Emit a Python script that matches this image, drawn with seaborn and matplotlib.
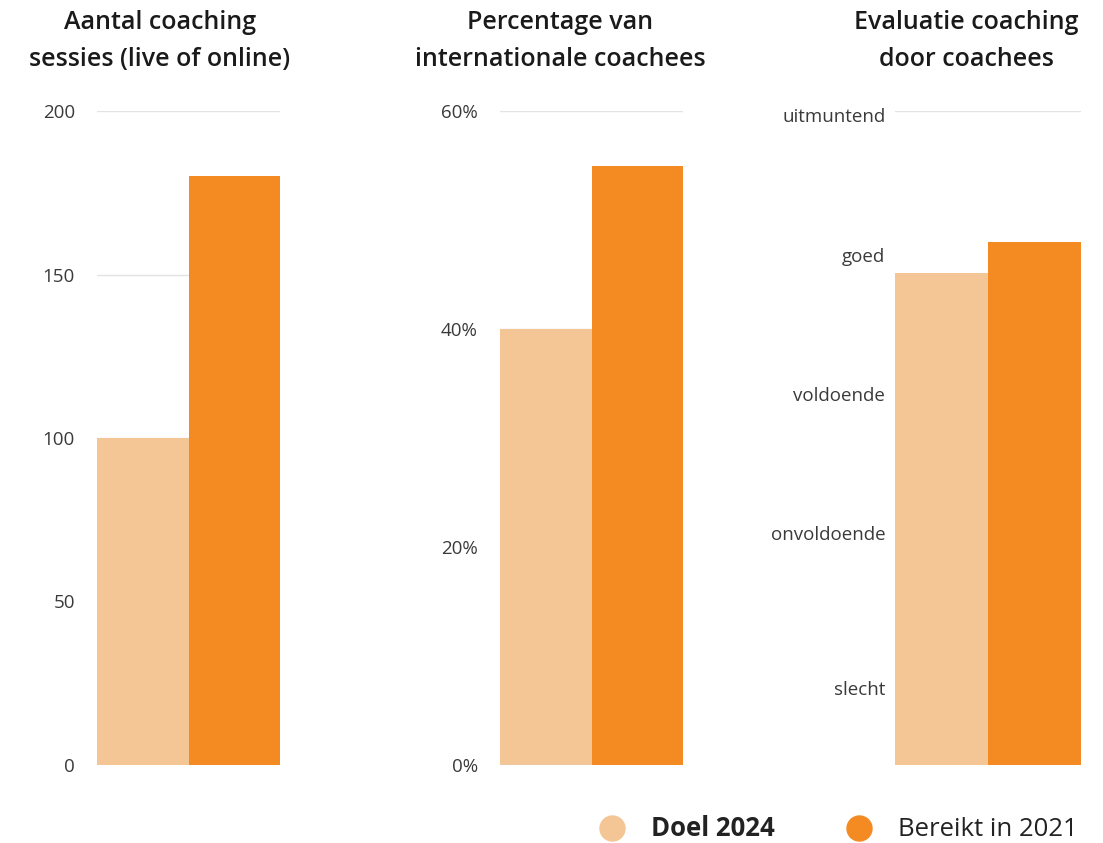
import matplotlib
matplotlib.use("Agg")
import matplotlib.pyplot as plt
import seaborn as sns
import pandas as pd
from matplotlib.lines import Line2D
from matplotlib.ticker import FuncFormatter

# ---- data ----
series = ["Doel 2024", "Bereikt in 2021"]
colors = ["#F4C695", "#F48A22"]

titles = ["Aantal coaching\nsessies (live of online)",
          "Percentage van\ninternationale coachees",
          "Evaluatie coaching\ndoor coachees"]

sessies = [100, 180]
internationaal = [40, 55]          # percent
evaluatie = [3.76, 4.0]            # on 0..5 scale

ticks_sessies = [0, 50, 100, 150, 200]
ticks_intl = [0, 20, 40, 60]
eval_tick_pos = [0.59, 1.77, 2.84, 3.90, 4.97]
eval_tick_labels = ["slecht", "onvoldoende", "voldoende", "goed", "uitmuntend"]

sns.set_theme(style="white")
plt.rcParams["font.family"] = ["Open Sans", "DejaVu Sans"]

fig = plt.figure(figsize=(11.03, 8.43), dpi=100)
W, H = 1103, 843
bottom = (H - 765) / H
height = (765 - 111) / H
lefts = [97, 500, 895]
widths = [183, 183, 186]

values = [sessies, internationaal, evaluatie]
ylims = [(0, 200), (0, 60), (0, 5)]
axes = []
for i in range(3):
    ax = fig.add_axes([lefts[i] / W, bottom, widths[i] / W, height])
    df = pd.DataFrame({"reeks": series, "waarde": values[i]})
    sns.barplot(data=df, x="reeks", y="waarde", hue="reeks", palette=colors,
                width=1.0, dodge=False, legend=False, ax=ax, saturation=1,
                linewidth=0, edgecolor="none")
    ax.set_xlim(-0.5, 1.5)
    ax.set_ylim(*ylims[i])
    ax.set_xlabel("")
    ax.set_ylabel("")
    ax.set_xticks([])
    for s in ax.spines.values():
        s.set_visible(False)
    ax.set_axisbelow(True)
    ax.tick_params(axis="y", length=0, labelsize=13.5, labelcolor="#3a3a3a")
    axes.append(ax)

# panel 1
axes[0].set_yticks(ticks_sessies)
axes[0].yaxis.grid(True, color="#e3e3e3", linewidth=1)
axes[0].tick_params(axis="y", pad=16)

# panel 2
axes[1].set_yticks(ticks_intl)
axes[1].yaxis.set_major_formatter(FuncFormatter(lambda v, p: f"{v:.0f}%"))
axes[1].yaxis.grid(True, color="#e3e3e3", linewidth=1)
axes[1].tick_params(axis="y", pad=16)
axes[1].axhline(0, color="#cccccc", linewidth=1, xmax=0.5, zorder=5)

# panel 3
axes[2].set_yticks(eval_tick_pos)
axes[2].set_yticklabels(eval_tick_labels)
axes[2].tick_params(axis="y", pad=7)
axes[2].axhline(5, color="#e3e3e3", linewidth=1, zorder=0)

# titles
title_x = [160, 560, 966]
for i in range(3):
    fig.text(title_x[i] / W, 1 - 41 / H, titles[i], ha="center", va="center",
             fontsize=18, fontweight="semibold", color="#1a1a1a", linespacing=1.6)

# legend
handles = [Line2D([0], [0], marker="o", linestyle="", markersize=18,
                  markerfacecolor=c, markeredgecolor=c) for c in colors]
leg = fig.legend(handles, series, loc="center", bbox_to_anchor=(832 / W, 1 - 829 / H),
                 ncol=2, frameon=False, fontsize=18.5, handletextpad=0.5,
                 columnspacing=2.3, labelcolor="#222222")
leg.get_texts()[0].set_fontweight("bold")

fig.savefig("out.png", dpi=100)
